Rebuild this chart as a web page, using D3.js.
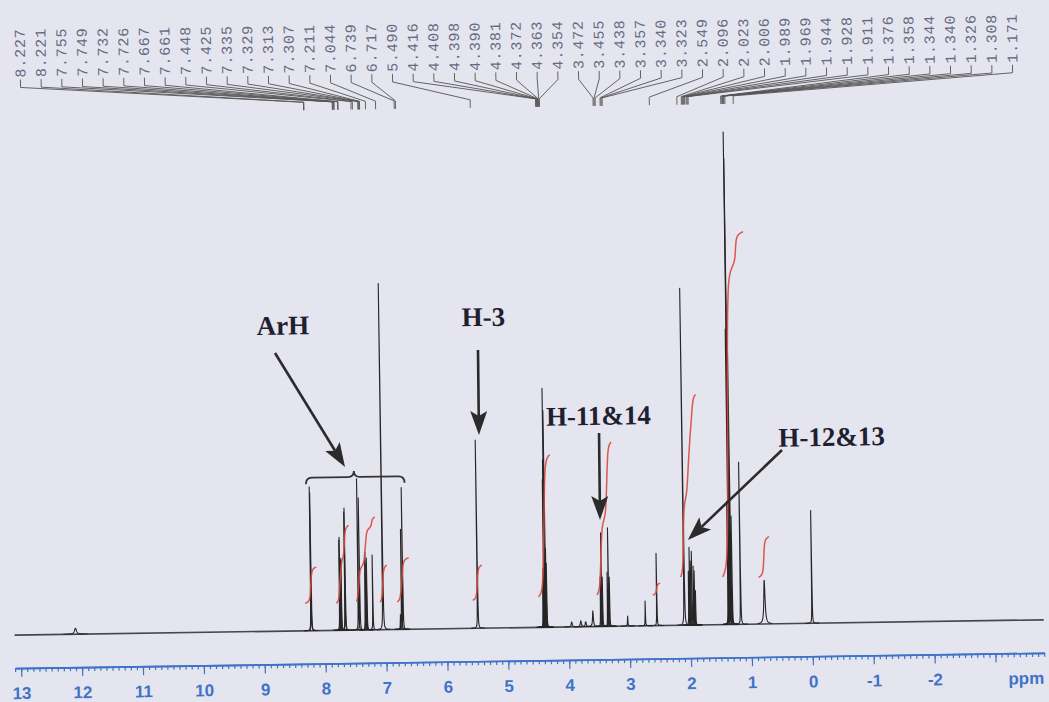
<!DOCTYPE html>
<html>
<head>
<meta charset="utf-8">
<script src="https://cdn.jsdelivr.net/npm/d3@7"></script>
<style>
  html, body { margin: 0; padding: 0; background: #e5e5f0; }
  svg { display: block; }
</style>
</head>
<body>
<svg id="chart" width="1049" height="702"></svg>
<script>
// Peak-picking list printed above the spectrum (ppm)
const peakLabels = [
  "8.227", "8.221", "7.755", "7.749", "7.732", "7.726", "7.667", "7.661",
  "7.448", "7.425", "7.335", "7.329", "7.313", "7.307", "7.211", "7.044",
  "6.739", "6.717", "5.490", "4.416", "4.408", "4.398", "4.390", "4.381",
  "4.372", "4.363", "4.354", "3.472", "3.455", "3.438", "3.357", "3.340",
  "3.323", "2.549", "2.096", "2.023", "2.006", "1.989", "1.969", "1.944",
  "1.928", "1.911", "1.376", "1.358", "1.344", "1.340", "1.326", "1.308",
  "1.171"
];

// Resolved lines of the 1H spectrum: position (ppm), height (% of tallest), half width (ppm)
const linePpm = [
  12.10, 8.227, 8.221, 7.755, 7.749, 7.732, 7.726, 7.667, 7.661, 7.448, 7.425,
  7.335, 7.329, 7.313, 7.307, 7.211, 7.044, 6.760, 6.739, 6.717, 5.490,
  4.416, 4.408, 4.398, 4.390, 4.381, 4.372, 4.363, 4.354,
  3.950, 3.800, 3.720, 3.600, 3.472, 3.455, 3.438, 3.357, 3.340, 3.323,
  3.030, 2.740, 2.549, 2.096, 2.023, 2.006, 1.989, 1.969, 1.944, 1.928, 1.911,
  1.376, 1.358, 1.344, 1.340, 1.326, 1.308, 1.171, 0.780, 0.000
];
const lineHeight = [
  1.2, 29.2, 28.0, 18.3, 18.9, 14.2, 14.6, 24.0, 24.8, 30.7, 26.8,
  14.2, 15.8, 13.4, 14.6, 15.2, 70.3, 3.0, 20.3, 28.8, 38.2,
  10, 12, 30, 34, 48.5, 44, 16, 13,
  1.0, 1.2, 1.0, 3.2, 10, 19, 10, 11, 20, 10,
  2.0, 5.0, 14.7, 68.4, 11, 15.8, 13, 15, 12, 11, 7,
  25, 60, 100, 94.6, 55, 22, 32.9, 9.0, 22.9
];
const lineWidth = [
  0.02, 0.0025, 0.0025, 0.0025, 0.0025, 0.0025, 0.0025, 0.0025, 0.0025, 0.0025, 0.0025,
  0.0025, 0.0025, 0.0025, 0.0025, 0.0025, 0.0025, 0.004, 0.0025, 0.0025, 0.0025,
  0.0025, 0.0025, 0.0025, 0.0025, 0.0025, 0.0025, 0.0025, 0.0025,
  0.01, 0.01, 0.01, 0.008, 0.0025, 0.0025, 0.0025, 0.0025, 0.0025, 0.0025,
  0.004, 0.003, 0.0025, 0.0025, 0.0025, 0.0025, 0.0025, 0.0025, 0.0025, 0.0025, 0.0025,
  0.0025, 0.0025, 0.0025, 0.0025, 0.0025, 0.0025, 0.0025, 0.012, 0.0025
];

// Integral traces: region (ppm), starting level and rise (same units as line height)
const integralFrom = [8.32, 7.81, 7.48, 7.09, 6.81, 5.57, 4.49, 3.53, 2.61, 2.15, 1.46, 0.87];
const integralTo   = [8.13, 7.59, 7.16, 6.97, 6.61, 5.41, 4.27, 3.26, 2.49, 1.86, 1.04, 0.69];
const integralBase = [5.6, 5.5, 5.8, 5.6, 5.6, 5.7, 6.2, 6.4, 6.2, 9.8, 9.7, 9.5];
const integralRise = [7.3, 15.8, 17.1, 7.5, 8.9, 7.1, 28.8, 31.0, 2.4, 37.0, 70.0, 8.2];

// Chemical-shift axis
const axisTicks  = [13, 12, 11, 10, 9, 8, 7, 6, 5, 4, 3, 2, 1, 0, -1, -2, -3];
const axisLabels = ["13", "12", "11", "10", "9", "8", "7", "6", "5", "4", "3", "2", "1", "0", "-1", "-2", ""];
const axisUnit = "ppm";

// Assignments
const annotationText = ["ArH", "H-3", "H-11&14", "H-12&13"];

const W = 1049, H = 702;
const svg = d3.select("#chart");
svg.append("rect").attr("width", W).attr("height", H).attr("fill", "#e5e5f0");

// the printed sheet sits slightly tilted
const g = svg.append("g").attr("transform", "rotate(-0.85,525,350)");

const x = d3.scaleLinear().domain([13, 0]).range([16.5, 808.2]);
const y = d3.scaleLinear().domain([0, 100]).range([627.5, 135]);

const peaks = linePpm.map((p, i) => ({ p, h: lineHeight[i], w: lineWidth[i] }));

// ---- baseline ----
g.append("path")
  .attr("d", d3.line()([[x(13.1), y(0)], [x(-3.8), y(0)]]))
  .attr("stroke", "#474747").attr("stroke-width", 1.7).attr("fill", "none");

// ---- spectrum lines (Lorentzian shapes) ----
const lineGen = d3.line().x(d => x(d[0])).y(d => y(d[1]));
const specG = g.append("g");
peaks.forEach(pk => {
  const span = Math.max(7, pk.w * 60.9 * 10);
  const cx = x(pk.p);
  const pts = d3.range(-span, span + 0.001, 0.2).map(dx => {
    const pp = x.invert(cx + dx);
    return [pp, pk.h / (1 + ((pp - pk.p) / pk.w) ** 2)];
  });
  specG.append("path")
    .attr("d", lineGen(pts))
    .attr("fill", "none")
    .attr("stroke", "#262626")
    .attr("stroke-width", 1.1)
    .attr("stroke-linejoin", "round");
});

// ---- integral traces ----
const wb = 0.012;
const cumulative = ppm => d3.sum(peaks, pk => pk.h * pk.w * Math.atan((pk.p - ppm) / wb));
integralFrom.forEach((f, i) => {
  const t = integralTo[i];
  const g0 = cumulative(f), g1 = cumulative(t);
  const pts = d3.range(0, 1.0001, 0.005).map(u => {
    const pp = f + (t - f) * u;
    return [pp, integralBase[i] + integralRise[i] * (cumulative(pp) - g0) / (g1 - g0)];
  });
  g.append("path")
    .attr("d", d3.line().curve(d3.curveBasis).x(d => x(d[0])).y(d => y(d[1]))(pts))
    .attr("fill", "none")
    .attr("stroke", "#d9473d")
    .attr("stroke-opacity", 0.9)
    .attr("stroke-width", 1.5);
});

// ---- peak-picking labels with leader lines ----
const labelG = g.append("g");
peakLabels.forEach((lab, i) => {
  const lx = 24.5 + i * 20.67;
  const xp = x(parseFloat(lab));
  labelG.append("text")
    .attr("transform", `translate(${lx + 5},70) rotate(-90)`)
    .attr("font-family", "'Liberation Mono', 'DejaVu Sans Mono', monospace")
    .attr("font-size", 15)
    .attr("letter-spacing", 0.8)
    .attr("fill", "#666b80")
    .text(lab);
  labelG.append("path")
    .attr("d", `M${lx},72 L${lx},80 L${xp},99 L${xp},107`)
    .attr("fill", "none")
    .attr("stroke", "#555")
    .attr("stroke-width", 0.9);
});

// ---- chemical-shift axis ----
const axisScale = x.copy().domain([13.1, -3.8]).range([x(13.1), x(-3.8)]);
const blue = "#3f73c6";
const axisG = g.append("g").attr("transform", "translate(0,660.5)");
const minorAxis = d3.axisBottom(axisScale)
  .tickValues(d3.range(-38, 132).map(v => v / 10))
  .tickSize(4).tickSizeOuter(0).tickFormat("");
axisG.append("g").call(minorAxis);
const majorAxis = d3.axisBottom(axisScale)
  .tickValues(axisTicks)
  .tickSize(9).tickSizeOuter(0).tickPadding(10)
  .tickFormat((d, i) => axisLabels[i]);
axisG.append("g").call(majorAxis);
axisG.selectAll("path.domain").attr("stroke", blue).attr("stroke-width", 1.7);
axisG.selectAll("line").attr("stroke", blue).attr("stroke-width", 1.2);
axisG.selectAll("text")
  .attr("fill", blue)
  .attr("font-family", "'Liberation Sans', Arial, sans-serif")
  .attr("font-weight", "bold")
  .attr("font-size", 17);
axisG.append("text")
  .attr("x", axisScale(-3.5)).attr("y", 19).attr("dy", "0.71em")
  .attr("text-anchor", "middle")
  .attr("fill", blue)
  .attr("font-family", "'Liberation Sans', Arial, sans-serif")
  .attr("font-weight", "bold")
  .attr("font-size", 17)
  .text(axisUnit);

// ---- assignments: labels, arrows, brace ----
const annG = g.append("g");
const ink = "#2b2b2b";
function arrow(x1, y1, x2, y2) {
  const dx = x2 - x1, dy = y2 - y1, L = Math.hypot(dx, dy);
  const ux = dx / L, uy = dy / L, nx = -uy, ny = ux;
  const hl = 24, hw = 8.5, notch = 5;
  annG.append("line")
    .attr("x1", x1).attr("y1", y1)
    .attr("x2", x2 - ux * (hl - notch)).attr("y2", y2 - uy * (hl - notch))
    .attr("stroke", ink).attr("stroke-width", 2.6);
  const bx = x2 - ux * hl, by = y2 - uy * hl;
  const mx = x2 - ux * (hl - notch), my = y2 - uy * (hl - notch);
  annG.append("path")
    .attr("d", `M${x2},${y2} L${bx + nx * hw},${by + ny * hw} L${mx},${my} L${bx - nx * hw},${by - ny * hw} Z`)
    .attr("fill", ink);
}
function label(txt, lx, ly) {
  annG.append("text")
    .attr("x", lx).attr("y", ly)
    .attr("font-family", "'Liberation Serif', 'Times New Roman', serif")
    .attr("font-weight", "bold")
    .attr("font-size", 27)
    .attr("fill", "#1e2030")
    .text(txt);
}

label(annotationText[0], 257, 331);
arrow(275, 349.3, 343.3, 464.3);
// brace spanning the aromatic multiplets
{
  const bl = x(8.28), br = x(6.66), bt = x(7.49);
  const yArm = 474.4, yTip = 468.4, yEnd = 481;
  annG.append("path")
    .attr("d", `M${bl},${yEnd} Q${bl},${yArm} ${bl + 6},${yArm} L${bt - 6},${yArm} Q${bt},${yArm} ${bt},${yTip} Q${bt},${yArm} ${bt + 6},${yArm} L${br - 6},${yArm} Q${br},${yArm} ${br},${yEnd}`)
    .attr("fill", "none").attr("stroke", "#333").attr("stroke-width", 1.8);
}

label(annotationText[1], 462, 325.4);
arrow(478, 349.3, 477.7, 434.3);

label(annotationText[2], 545, 426);
arrow(597.8, 434.1, 597.5, 521.1);

label(annotationText[3], 777, 450.5);
arrow(780.5, 453.8, 685, 542.4);
</script>
</body>
</html>
